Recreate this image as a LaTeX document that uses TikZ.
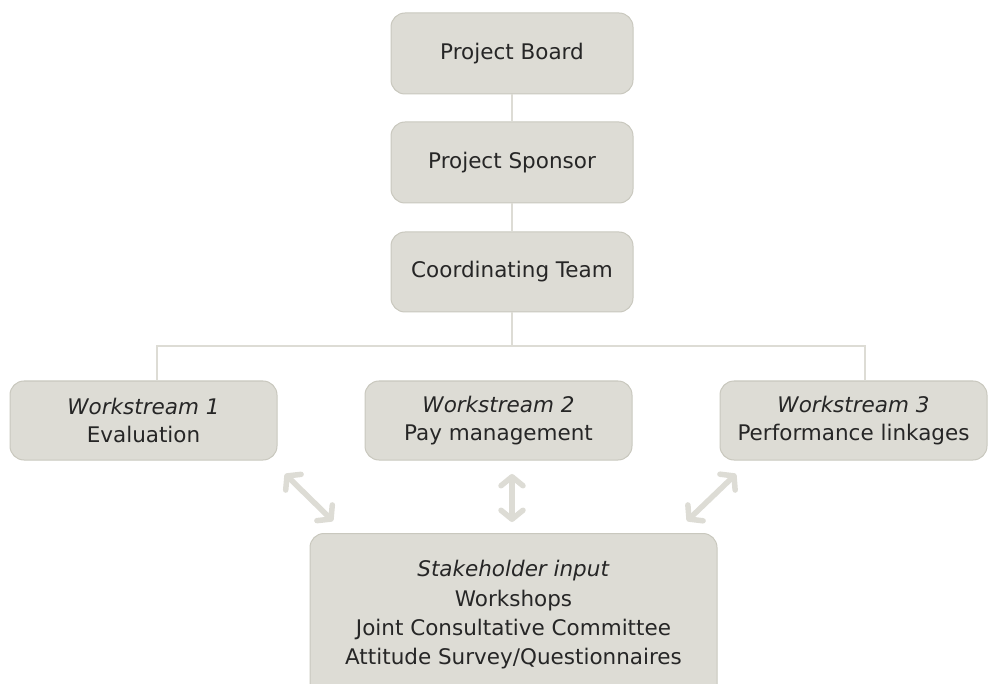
\documentclass[tikz,border=0pt]{standalone}
\usepackage{fontspec}
\setmainfont{DejaVu Sans}
\usetikzlibrary{arrows.meta}
\definecolor{boxfill}{HTML}{DDDCD5}
\definecolor{boxline}{HTML}{C9C8BE}
\definecolor{linkcol}{HTML}{DDDCD5}
\definecolor{txt}{HTML}{262626}
\tikzset{
  x=1pt, y=-1pt,
  box/.style={draw=boxline, line width=1pt, fill=boxfill, rounded corners=14pt,
    text=txt, align=center, font=\fontsize{21.5}{28}\selectfont, inner sep=0pt},
  label text/.style={text=txt, align=center, font=\fontsize{21.5}{29.3}\selectfont, inner sep=0pt},
  link/.style={draw=linkcol, line width=2pt},
  twoway/.style={draw=linkcol, line width=5.5pt, line cap=round,
    {Straight Barb[length=9pt, width=22pt, line cap=round, round]}-{Straight Barb[length=9pt, width=22pt, line cap=round, round]}}
}
\begin{document}
\begin{tikzpicture}
\useasboundingbox (0,0) rectangle (1001,684);
\clip (0,0) rectangle (1001,684);
\node[box, minimum width=242pt, minimum height=81pt] (board) at (512,53.5) {Project Board};
\node[box, minimum width=242pt, minimum height=81pt] (sponsor) at (512,162.5) {Project Sponsor};
\node[box, minimum width=242pt, minimum height=80pt] (coord) at (512,272) {Coordinating Team};
\node[box, minimum width=267pt, minimum height=79pt] (ws1) at (143.5,420.5) {\textit{Workstream 1}\\Evaluation};
\node[box, minimum width=267pt, minimum height=79pt] (ws2) at (498.5,420.5) {\textit{Workstream 2}\\Pay management};
\node[box, minimum width=267pt, minimum height=79pt] (ws3) at (853.5,420.5) {\textit{Workstream 3}\\Performance linkages};
\node[box, minimum width=407pt, minimum height=180pt, anchor=north] (stake) at (513.5,533) {};
\node[label text] (staketext) at (513.5,615)
  {\textit{Stakeholder input}\\Workshops\\Joint Consultative Committee\\Attitude Survey/Questionnaires};
\coordinate (split) at (512,346);
\coordinate (left) at (157,346);
\coordinate (right) at (865,346);
\draw[link] (board.south) -- (sponsor.north);
\draw[link] (sponsor.south) -- (coord.north);
\draw[link] (coord.south) -- (split);
\draw[link] (left |- ws1.north) -- (left) -- (right) -- (right |- ws3.north);
\coordinate (a1) at (285,474);
\coordinate (b1) at (333,521);
\coordinate (a2) at (512,474);
\coordinate (b2) at (512,522);
\coordinate (a3) at (736,474);
\coordinate (b3) at (687,521);
\draw[twoway] (a1) -- (b1);
\draw[twoway] (a2) -- (b2);
\draw[twoway] (a3) -- (b3);
\end{tikzpicture}
\end{document}
